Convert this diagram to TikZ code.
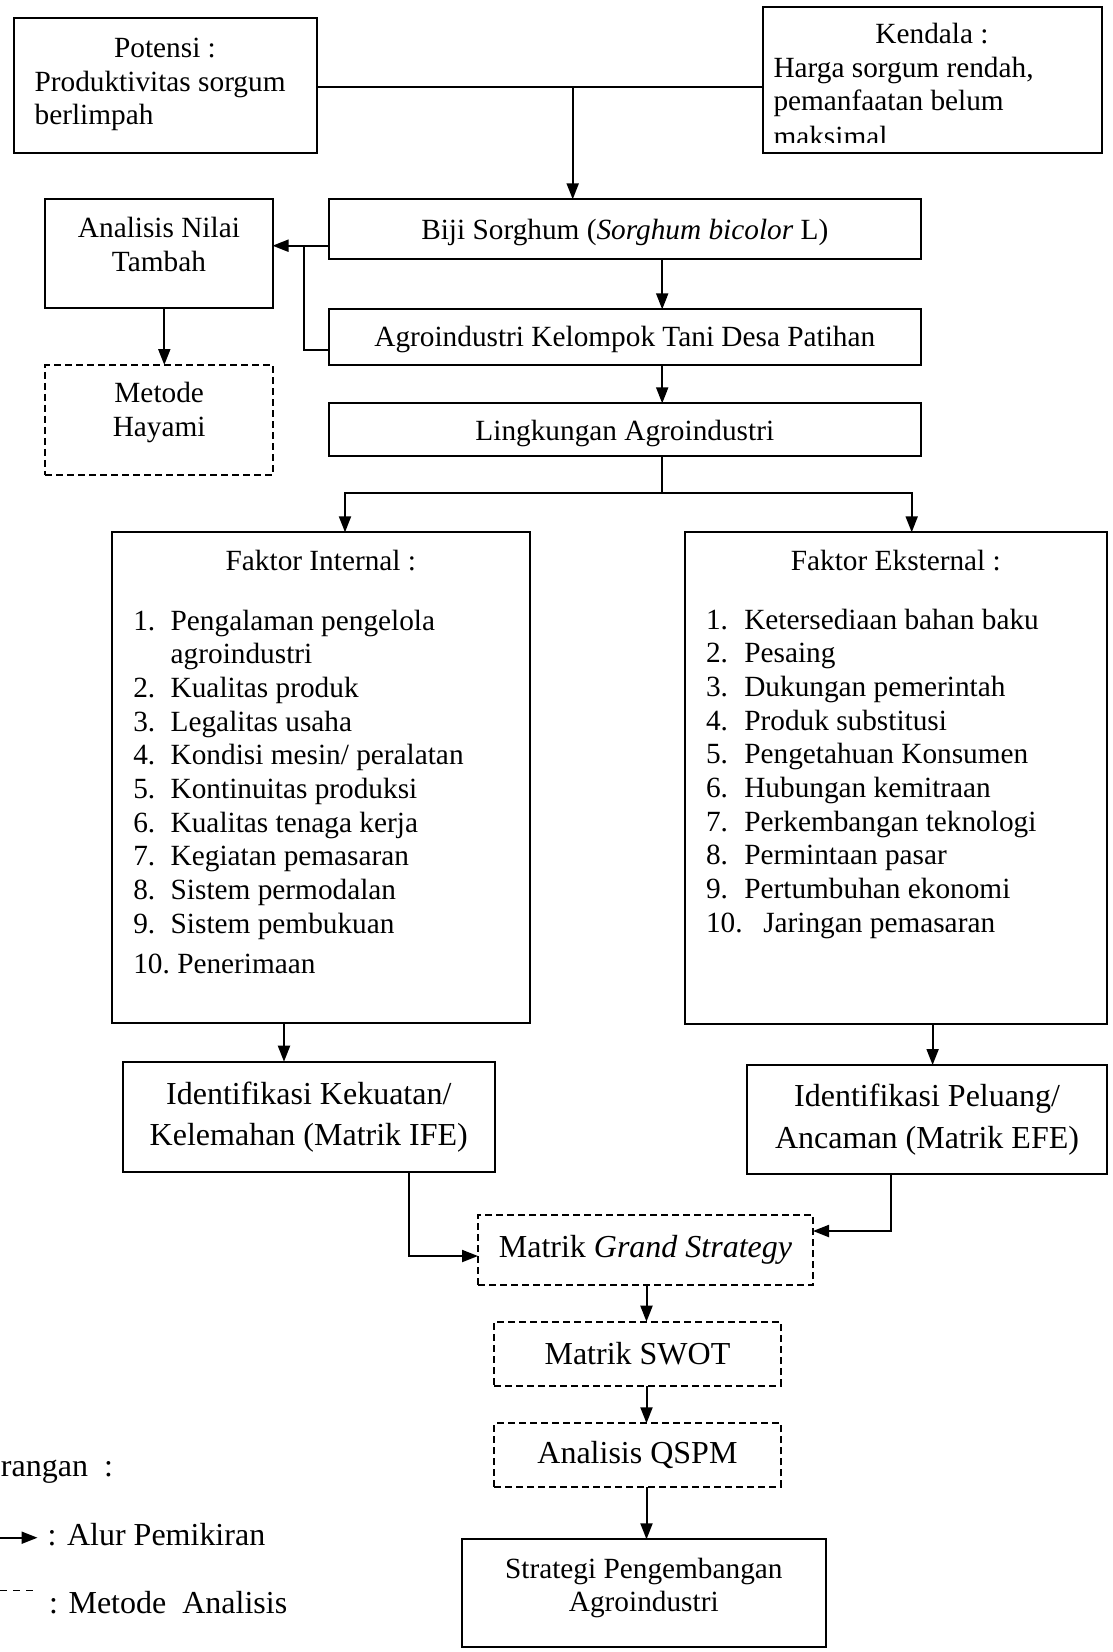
\documentclass[tikz,border=0pt]{standalone}
\usepackage{fontspec}
\setmainfont{Liberation Serif}
\usetikzlibrary{arrows.meta}
\begin{document}
\begin{tikzpicture}[x=1pt,y=-1pt,
  every node/.style={inner sep=0pt, outer sep=0pt},
  nf/.style={font=\fontsize{29.3}{33.7}\selectfont},
  bf/.style={font=\fontsize{32}{41.7}\selectfont},
  box/.style={draw, line width=2pt, rectangle},
  dbox/.style={box, dash pattern=on 7pt off 4pt},
  conn/.style={line width=2pt},
  arr/.style={conn, -{Triangle[length=16pt,width=12pt]}},
]
\useasboundingbox (0,0) rectangle (1112,1652);
\clip (0,0) rectangle (1112,1652);
\fill[white] (0,0) rectangle (1112,1652);

% ---- top boxes
\node[box, minimum width=303.1pt, minimum height=134.4pt] (pot) at (165.15,85.5) {};
\node[nf, anchor=base] (pot1) at (165,57.5) {Potensi :};
\node[nf, anchor=base west] (pot2) at (34.6,91.2) {Produktivitas sorgum};
\node[nf, anchor=base west] (pot3) at (34.6,124.9) {berlimpah};

\node[box, fill=white, minimum width=339.3pt, minimum height=146pt] (ken) at (932.15,79.7) {};
\begin{scope}
\clip (763,8) rectangle (1101,142.5);
\node[nf, anchor=base] (ken1) at (932,43.3) {Kendala :};
\node[nf, anchor=base west] (ken2) at (773.5,77) {Harga sorgum rendah,};
\node[nf, anchor=base west] (ken3) at (773.5,110.7) {pemanfaatan belum};
\node[nf, anchor=base west] (ken4) at (773.5,146.5) {maksimal};
\end{scope}

\coordinate (j1) at (572.7,87.3);

% ---- central column
\node[box, nf, text height=20pt, text depth=0pt, minimum width=592.4pt, minimum height=60pt] (biji) at (624.8,229.3) {Biji Sorghum (\textit{Sorghum bicolor} L)};
\node[box, nf, text height=18pt, text depth=0pt, minimum width=592.4pt, minimum height=55.7pt] (agro) at (624.8,337.2) {Agroindustri Kelompok Tani Desa Patihan};
\node[box, nf, text height=22pt, text depth=0pt, minimum width=592.4pt, minimum height=52.7pt] (lingk) at (624.8,429.7) {Lingkungan Agroindustri};

\draw[conn] (pot.east |- j1) -- (ken.west |- j1);
\draw[arr] (j1) -- (biji.north -| j1);

\coordinate (jx) at (662.2,0);
\draw[arr] (biji.south -| jx) -- (agro.north -| jx);
\draw[arr] (agro.south -| jx) -- (lingk.north -| jx);

% ---- left side boxes
\node[box, minimum width=227.1pt, minimum height=109pt] (anl) at (158.95,253.8) {};
\node[nf, anchor=base] (anl1) at (158.95,237.5) {Analisis Nilai};
\node[nf, anchor=base] (anl2) at (158.95,271.2) {Tambah};

\node[dbox, minimum width=227.6pt, minimum height=110pt] (met) at (159.2,420) {};
\node[nf, anchor=base] (met1) at (159.2,402.7) {Metode};
\node[nf, anchor=base] (met2) at (159.2,436.4) {Hayami};

\coordinate (j2) at (303.6,245.7);
\coordinate (j3) at (303.6,350);
\draw[arr] (biji.west |- j2) -- (anl.east |- j2);
\draw[conn] (agro.west |- j3) -- (j3) -- (j2);
\coordinate (j4) at (164.3,0);
\draw[arr] (anl.south -| j4) -- (met.north -| j4);

% ---- factor boxes
\node[box, minimum width=418.3pt, minimum height=491pt] (fi) at (320.85,777.8) {};
\node[nf, anchor=base] (fit) at (320.85,570) {Faktor Internal :};
\node[nf, anchor=base west] (fil) at (133.3,630) {\begin{tabular}[t]{@{}l@{}}
\makebox[37.4pt][l]{1.}Pengalaman pengelola\\
\makebox[37.4pt][l]{}agroindustri\\
\makebox[37.4pt][l]{2.}Kualitas produk\\
\makebox[37.4pt][l]{3.}Legalitas usaha\\
\makebox[37.4pt][l]{4.}Kondisi mesin/ peralatan\\
\makebox[37.4pt][l]{5.}Kontinuitas produksi\\
\makebox[37.4pt][l]{6.}Kualitas tenaga kerja\\
\makebox[37.4pt][l]{7.}Kegiatan pemasaran\\
\makebox[37.4pt][l]{8.}Sistem permodalan\\
\makebox[37.4pt][l]{9.}Sistem pembukuan\\[6.3pt]
10.\ Penerimaan
\end{tabular}};

\node[box, minimum width=421.7pt, minimum height=491.7pt] (fe) at (895.85,778.15) {};
\node[nf, anchor=base] (fet) at (895.85,570) {Faktor Eksternal :};
\node[nf, anchor=base west] (fel) at (706,629) {\begin{tabular}[t]{@{}l@{}}
\makebox[38.3pt][l]{1.}Ketersediaan bahan baku\\
\makebox[38.3pt][l]{2.}Pesaing\\
\makebox[38.3pt][l]{3.}Dukungan pemerintah\\
\makebox[38.3pt][l]{4.}Produk substitusi\\
\makebox[38.3pt][l]{5.}Pengetahuan Konsumen\\
\makebox[38.3pt][l]{6.}Hubungan kemitraan\\
\makebox[38.3pt][l]{7.}Perkembangan teknologi\\
\makebox[38.3pt][l]{8.}Permintaan pasar\\
\makebox[38.3pt][l]{9.}Pertumbuhan ekonomi\\
\makebox[57.3pt][l]{10.}Jaringan pemasaran
\end{tabular}};

\coordinate (j5) at (662.2,493.3);
\coordinate (j6) at (345,493.3);
\coordinate (j7) at (911.7,493.3);
\draw[conn] (lingk.south -| j5) -- (j5);
\draw[arr] (j5) -| (fi.north -| j6);
\draw[arr] (j5) -| (fe.north -| j7);

% ---- identification boxes
\node[box, bf, align=center, minimum width=372.4pt, minimum height=110.6pt] (ife) at (308.8,1117) {Identifikasi Kekuatan/\\Kelemahan (Matrik IFE)};
\node[box, bf, align=center, minimum width=359.5pt, minimum height=109pt] (efe) at (927.05,1119.5) {Identifikasi Peluang/\\Ancaman (Matrik EFE)};

\coordinate (j8) at (284,0);
\draw[arr] (fi.south -| j8) -- (ife.north -| j8);
\coordinate (j9) at (932.6,0);
\draw[arr] (fe.south -| j9) -- (efe.north -| j9);

% ---- analysis chain
\node[dbox, bf, minimum width=335pt, minimum height=70pt] (gs) at (645.5,1250) {Matrik \textit{Grand Strategy}};
\node[dbox, bf, minimum width=286.1pt, minimum height=64.3pt] (swot) at (637.45,1353.85) {Matrik SWOT};
\node[dbox, bf, minimum width=286.1pt, minimum height=64pt] (qspm) at (637.45,1455.3) {Analisis QSPM};
\node[box, minimum width=364.2pt, minimum height=107.4pt] (str) at (643.8,1593) {};
\node[nf, anchor=base] (str1) at (643.8,1578.3) {Strategi Pengembangan};
\node[nf, anchor=base] (str2) at (643.8,1611.7) {Agroindustri};

\coordinate (j10) at (408.5,1256);
\draw[arr] (ife.south -| j10) -- (j10) -- (gs.west |- j10);
\coordinate (j11) at (890.6,1231);
\draw[arr] (efe.south -| j11) -- (j11) -- (gs.east |- j11);

\coordinate (j12) at (646.5,0);
\draw[arr] (gs.south -| j12) -- (swot.north -| j12);
\draw[arr] (swot.south -| j12) -- (qspm.north -| j12);
\draw[arr] (qspm.south -| j12) -- (str.north -| j12);

% ---- legend
\node[bf, anchor=base west] (ket) at (1,1476) {rangan\ \ :};
\coordinate (la0) at (0,1537.7);
\coordinate (la1) at (37.5,1537.7);
\draw[arr] (la0) -- (la1);
\node[bf, anchor=base west] (lt1) at (47.5,1545) {: Alur Pemikiran};
\coordinate (ld0) at (0,1590.7);
\coordinate (ld1) at (34,1590.7);
\draw[conn, line width=1.5pt, dash pattern=on 7pt off 6pt] (ld0) -- (ld1);
\node[bf, anchor=base west] (lt2) at (49,1613) {: Metode\ \ Analisis};
\end{tikzpicture}
\end{document}
